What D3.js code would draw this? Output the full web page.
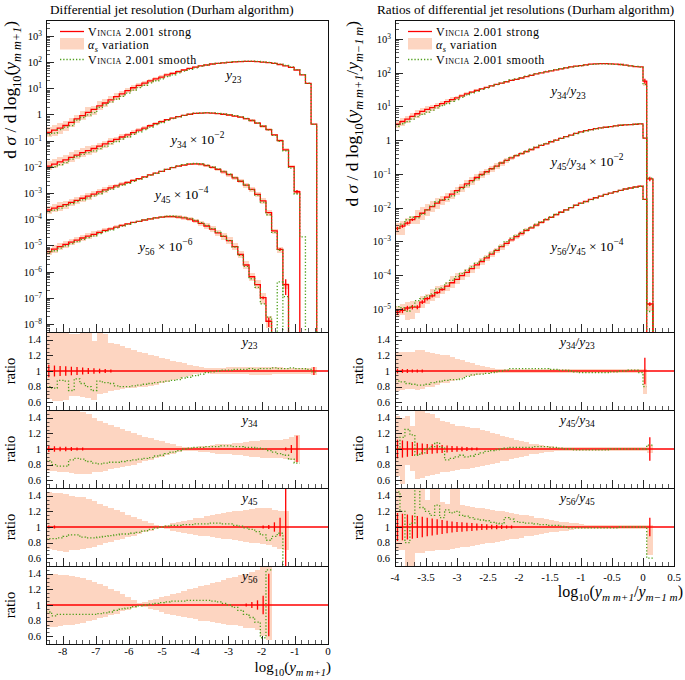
<!DOCTYPE html>
<html>
<head>
<meta charset="utf-8">
<script src="https://cdn.jsdelivr.net/npm/d3@7/dist/d3.min.js"></script>
<style>
html,body{margin:0;padding:0;background:#fff;}
svg{display:block;}
text{font-family:"Liberation Serif","DejaVu Serif",serif;fill:#000;}
</style>
</head>
<body>
<svg id="chart" width="685" height="680"></svg>
<script>
// ================= DATA =================
// Left: log10(y_{m m+1}) histograms, 50 bins of width 0.17 from -8.5 to 0
const leftEdges = d3.range(51).map(i => -8.5 + 0.17 * i);
// Right: log10(y_{m m+1}/y_{m-1 m}), 50 bins of 0.08 from -4 to 0, plus two end bins
const rightEdges = d3.range(51).map(i => -4 + 0.08 * i).concat([0.06, 0.16]);

const leftNames = ["23", "34", "45", "56"];
const leftScales = [1, 1e-2, 1e-4, 1e-6];
const rightNames = [["34", "23"], ["45", "34"], ["56", "45"]];
const rightScales = [1, 1e-2, 1e-4];

// Vincia 2.001 strong (unscaled)
const y23Values = [0.209,0.251,0.302,0.380,0.501,0.676,0.912,1.20,1.58,2.14,2.75,3.63,4.79,6.17,8.13,10.5,12.9,15.8,19.1,22.9,26.9,32.4,37.2,43.7,50.1,57.5,64.6,72.4,77.6,85.1,89.1,93.3,97.7,102,105,107,107,105,100,95.5,89.1,81.3,72.4,63.1,50.1,32.4,15.5,0.427];
const y34Values = [1.07,1.26,1.55,1.86,2.29,2.82,3.47,4.17,5.01,6.17,7.59,9.33,11.2,13.8,16.6,20.4,25.1,30.2,37.2,44.7,53.7,63.1,72.4,83.2,93.3,102,110,112,115,112,107,102,95.5,87.1,79.4,69.2,58.9,46.8,35.5,26.3,16.6,10.0,4.47,1.02,0.112];
const y45Values = [2.24,2.63,3.09,3.63,4.37,5.25,6.31,7.59,9.12,11.0,13.2,15.8,18.6,21.9,25.7,30.2,35.5,41.7,49.0,57.5,67.6,79.4,93.3,107,117,126,129,126,112,95.5,79.4,64.6,50.1,38.0,28.2,20.0,13.8,8.91,5.01,1.78,0.355,0.0708,0.00316];
const y56Values = [5.75,7.24,8.91,11.0,13.2,15.8,19.1,22.4,26.3,31.6,37.2,42.7,50.1,57.5,66.1,75.9,83.2,93.3,102,112,120,126,126,120,112,100,85.1,69.2,55.0,41.7,30.2,21.9,15.1,8.91,4.47,1.78,0.631,0.316,0.1,0.0126];

const r34_23Values = [2.95,3.55,4.17,5.01,6.03,7.08,8.13,9.12,10.5,12.0,13.8,15.8,17.8,20.4,23.4,26.3,29.5,33.1,36.3,40.7,44.7,49.0,53.7,58.9,63.1,69.2,75.9,83.2,91.2,97.7,105,112,120,129,138,148,155,162,170,178,182,186,186,182,178,174,166,158,151,148,56.2,0];
const r45_34Values = [0.240,0.282,0.347,0.437,0.537,0.676,0.851,1.07,1.35,1.66,2.04,2.51,3.16,3.98,5.01,6.31,7.76,9.55,11.5,14.1,17.0,20.9,25.1,29.5,34.7,39.8,45.7,52.5,60.3,69.2,77.6,89.1,100,112,126,141,158,174,191,204,219,229,240,251,263,275,282,288,295,302,115,7.08];
const r56_45Values = [0.0794,0.0891,0.105,0.112,0.112,0.158,0.200,0.240,0.302,0.372,0.468,0.589,0.741,0.955,1.20,1.55,2.00,2.51,3.24,4.17,5.37,6.92,8.71,11.0,13.8,17.0,20.9,25.1,30.2,36.3,43.7,51.3,61.7,72.4,85.1,100,117,135,151,174,195,219,245,269,295,324,355,380,407,427,174,0.138];

// alpha_s variation band (ratio to strong)
const y23BandHi = [1.55,1.55,1.55,1.55,1.47,1.47,1.55,1.55,1.38,1.49,1.48,1.36,1.34,1.32,1.29,1.27,1.25,1.23,1.21,1.19,1.17,1.15,1.13,1.12,1.10,1.08,1.07,1.05,1.04,1.04,1.04,1.04,1.05,1.05,1.05,1.05,1.05,1.05,1.05,1.05,1.05,1.05,1.04,1.04,1.04,1.04,1.04,1.05];
const y23BandLo = [0.64,0.61,0.62,0.63,0.68,0.68,0.67,0.66,0.63,0.70,0.72,0.75,0.76,0.77,0.78,0.78,0.79,0.80,0.81,0.82,0.84,0.86,0.88,0.90,0.92,0.94,0.96,0.97,0.97,0.96,0.96,0.96,0.96,0.96,0.96,0.96,0.95,0.95,0.95,0.95,0.96,0.96,0.96,0.96,0.96,0.96,0.96,0.95];
const y34BandHi = [1.55,1.55,1.55,1.55,1.55,1.55,1.48,1.45,1.40,1.36,1.33,1.31,1.28,1.26,1.23,1.20,1.18,1.16,1.14,1.12,1.10,1.08,1.06,1.04,1.03,1.02,1.03,1.04,1.04,1.05,1.06,1.06,1.07,1.08,1.08,1.09,1.10,1.10,1.11,1.11,1.12,1.12,1.13,1.15,1.18];
const y34BandLo = [0.72,0.72,0.70,0.70,0.69,0.68,0.68,0.68,0.70,0.70,0.72,0.74,0.76,0.77,0.78,0.80,0.82,0.84,0.86,0.88,0.90,0.92,0.94,0.96,0.98,0.98,0.97,0.96,0.96,0.95,0.94,0.94,0.93,0.92,0.92,0.91,0.90,0.90,0.89,0.89,0.88,0.88,0.87,0.86,0.83];
const y45BandHi = [1.45,1.44,1.43,1.42,1.40,1.39,1.38,1.36,1.33,1.30,1.27,1.25,1.22,1.19,1.16,1.13,1.10,1.08,1.05,1.03,1.01,1.03,1.05,1.06,1.08,1.09,1.11,1.12,1.14,1.15,1.17,1.18,1.19,1.20,1.21,1.22,1.23,1.24,1.24,1.25,1.22,1.20,1.20];
const y45BandLo = [0.72,0.70,0.69,0.68,0.70,0.71,0.72,0.73,0.75,0.77,0.79,0.81,0.83,0.85,0.87,0.89,0.91,0.93,0.95,0.97,0.99,0.97,0.95,0.94,0.92,0.91,0.90,0.89,0.88,0.87,0.86,0.85,0.84,0.83,0.82,0.81,0.80,0.79,0.78,0.77,0.75,0.72,0.70];
const y56BandHi = [1.40,1.40,1.39,1.38,1.37,1.36,1.34,1.32,1.30,1.27,1.24,1.21,1.18,1.14,1.10,1.06,1.02,1.04,1.06,1.08,1.10,1.12,1.14,1.16,1.18,1.20,1.22,1.24,1.26,1.28,1.30,1.32,1.34,1.36,1.38,1.40,1.42,1.45,1.55,1.55];
const y56BandLo = [0.72,0.72,0.73,0.74,0.75,0.76,0.77,0.79,0.81,0.83,0.85,0.87,0.89,0.92,0.94,0.96,0.99,0.97,0.95,0.93,0.91,0.89,0.87,0.86,0.84,0.83,0.82,0.80,0.79,0.78,0.77,0.76,0.75,0.74,0.73,0.71,0.70,0.68,0.60,0.55];
const r34_23BandHi = [1.25,1.25,1.25,1.25,1.27,1.27,1.24,1.23,1.22,1.21,1.20,1.18,1.16,1.14,1.12,1.10,1.08,1.07,1.05,1.04,1.03,1.03,1.03,1.03,1.03,1.03,1.03,1.03,1.03,1.03,1.03,1.03,1.03,1.03,1.03,1.03,1.03,1.03,1.03,1.02,1.02,1.02,1.02,1.02,1.02,1.02,1.02,1.02,1.02,1.02,1.02,null];
const r34_23BandLo = [0.75,0.76,0.77,0.77,0.76,0.77,0.79,0.80,0.82,0.84,0.85,0.87,0.89,0.91,0.93,0.94,0.95,0.96,0.97,0.97,0.97,0.97,0.97,0.97,0.97,0.97,0.97,0.97,0.97,0.97,0.97,0.97,0.97,0.97,0.97,0.97,0.97,0.97,0.97,0.98,0.98,0.98,0.98,0.98,0.98,0.98,0.98,0.98,0.98,0.98,0.70,null];
const r45_34BandHi = [1.42,1.40,1.42,1.30,1.55,1.55,1.46,1.45,1.40,1.36,1.34,1.32,1.30,1.29,1.28,1.27,1.27,1.25,1.23,1.21,1.19,1.17,1.16,1.14,1.12,1.10,1.09,1.07,1.06,1.05,1.04,1.04,1.03,1.03,1.03,1.03,1.03,1.03,1.03,1.03,1.03,1.03,1.03,1.03,1.03,1.03,1.03,1.03,1.03,1.03,1.03,1.05];
const r45_34BandLo = [0.65,0.55,0.80,0.72,0.62,0.63,0.65,0.67,0.68,0.70,0.71,0.72,0.73,0.74,0.75,0.76,0.77,0.78,0.80,0.81,0.82,0.84,0.85,0.87,0.88,0.90,0.91,0.93,0.94,0.95,0.96,0.96,0.97,0.97,0.97,0.97,0.97,0.97,0.97,0.97,0.97,0.97,0.97,0.97,0.97,0.97,0.97,0.97,0.97,0.97,0.97,0.95];
const r56_45BandHi = [1.55,1.55,1.55,1.55,1.55,1.55,1.35,1.55,1.55,1.32,1.30,1.55,1.55,1.28,1.27,1.26,1.25,1.24,1.23,1.22,1.21,1.20,1.19,1.18,1.17,1.16,1.15,1.14,1.12,1.11,1.10,1.09,1.08,1.07,1.06,1.05,1.05,1.04,1.03,1.03,1.03,1.03,1.03,1.03,1.03,1.03,1.03,1.03,1.03,1.03,1.03,1.02];
const r56_45BandLo = [0.71,0.71,0.45,0.45,0.67,0.67,0.69,0.69,0.70,0.71,0.71,0.72,0.73,0.74,0.75,0.76,0.77,0.78,0.79,0.80,0.81,0.82,0.83,0.84,0.85,0.86,0.88,0.89,0.90,0.91,0.92,0.93,0.94,0.95,0.95,0.96,0.97,0.97,0.97,0.97,0.97,0.97,0.97,0.97,0.97,0.97,0.97,0.97,0.97,0.97,0.97,0.64];

// Vincia 2.001 smooth, as ratio to strong
const y23Smooth = [0.80,0.78,0.88,0.87,0.75,0.90,0.84,0.80,0.75,0.87,0.85,0.84,0.81,0.80,0.80,0.81,0.82,0.83,0.84,0.85,0.86,0.87,0.88,0.89,0.91,0.92,0.94,0.96,0.98,0.99,1.00,1.01,1.01,1.02,1.02,1.02,1.03,1.02,1.03,1.03,1.04,1.03,1.03,1.04,1.03,1.03,1.02,0.99];
const y34Smooth = [0.85,0.80,0.78,0.78,0.86,0.88,0.87,0.84,0.82,0.81,0.82,0.83,0.83,0.84,0.85,0.86,0.87,0.88,0.89,0.91,0.92,0.94,0.96,0.98,1.00,1.01,1.02,1.02,1.03,1.03,1.03,1.04,1.04,1.03,1.03,1.02,1.02,1.01,1.00,0.98,0.96,0.94,0.92,0.87,0.82];
const y45Smooth = [0.85,0.85,0.86,0.88,0.90,0.90,0.87,0.86,0.86,0.87,0.88,0.89,0.90,0.91,0.91,0.92,0.93,0.95,0.97,0.99,1.00,1.01,1.02,1.02,1.03,1.03,1.04,1.04,1.04,1.05,1.05,1.04,1.04,1.02,1.01,0.99,0.97,0.94,0.90,0.83,0.88,0.92,0.35];
const y56Smooth = [0.91,0.86,0.88,0.88,0.88,0.88,0.88,0.88,0.88,0.89,0.90,0.91,0.93,0.95,0.96,0.98,0.99,1.00,1.01,1.02,1.03,1.04,1.05,1.05,1.05,1.06,1.06,1.06,1.06,1.05,1.04,1.02,1.00,0.97,0.93,0.88,0.84,0.78,0.58,1.45];
const r34_23Smooth = [0.87,0.86,0.84,0.83,0.82,0.82,0.83,0.85,0.86,0.87,0.88,0.89,0.89,0.90,0.93,0.95,0.96,0.96,0.97,0.98,0.99,1.00,1.01,1.03,1.03,1.03,1.03,1.03,1.03,1.03,1.03,1.02,1.02,1.01,1.01,1.00,0.99,0.98,0.98,0.98,0.98,0.98,0.98,0.99,0.99,1.00,1.00,1.01,1.01,0.98,0.80,null];
const r45_34Smooth = [1.00,1.15,1.25,1.18,0.92,0.95,1.00,1.03,1.08,1.02,0.86,0.88,0.90,0.92,0.90,0.91,0.93,0.95,0.97,0.98,0.99,1.00,1.01,1.02,1.02,1.02,1.02,1.02,1.03,1.03,1.03,1.02,1.02,1.01,1.00,1.00,0.99,0.99,0.99,0.99,0.99,0.99,0.99,1.00,1.00,1.00,1.00,1.00,1.00,1.00,1.00,1.05];
const r56_45Smooth = [1.45,1.20,0.80,1.05,1.55,1.25,1.20,1.15,1.28,1.12,1.22,1.18,1.20,1.15,1.14,1.12,1.10,1.09,1.08,1.06,1.05,1.04,1.12,1.10,1.07,1.06,1.05,1.05,1.04,1.03,1.03,1.02,1.02,1.01,1.00,0.99,0.99,0.99,0.99,0.99,0.99,0.99,0.99,0.99,0.99,1.00,1.00,1.00,1.00,1.00,1.00,0.60];
// smooth-only bins where strong is empty: [bin, unscaled value]
const y34SmoothTail = [[45, 2.1e-3]];
const y56SmoothTail = [[41, 0.4]];

// relative statistical errors of strong
const y23Err = [0.08,0.07,0.065,0.06,0.055,0.05,0.045,0.04,0.035,0.03,0.025,0.02,0.015,0.012,0.01,0.008,0.006,0.005,0.004,0.003,0.003,0.002,0.002,0.002,0.002,0.002,0.002,0.002,0.002,0.002,0.002,0.002,0.002,0.002,0.002,0.002,0.002,0.002,0.002,0.002,0.003,0.003,0.004,0.005,0.006,0.008,0.012,0.05];
const y34Err = [0.04,0.035,0.03,0.03,0.025,0.02,0.02,0.015,0.012,0.01,0.008,0.006,0.005,0.004,0.003,0.003,0.002,0.002,0.002,0.002,0.002,0.002,0.002,0.002,0.002,0.002,0.002,0.002,0.002,0.002,0.002,0.002,0.002,0.002,0.002,0.003,0.003,0.004,0.005,0.006,0.008,0.012,0.02,0.05,0.17];
const y45Err = [0.02,0.02,0.015,0.015,0.012,0.01,0.01,0.008,0.006,0.005,0.004,0.003,0.003,0.002,0.002,0.002,0.002,0.002,0.002,0.002,0.002,0.002,0.002,0.002,0.002,0.002,0.002,0.002,0.002,0.003,0.003,0.004,0.005,0.006,0.008,0.01,0.012,0.015,0.02,0.025,0.06,0.12,0.6];
const y56Err = [0.015,0.015,0.012,0.01,0.01,0.008,0.006,0.005,0.004,0.003,0.003,0.002,0.002,0.002,0.002,0.002,0.002,0.002,0.002,0.002,0.002,0.002,0.002,0.002,0.002,0.002,0.003,0.003,0.004,0.005,0.006,0.008,0.01,0.012,0.015,0.02,0.04,0.06,0.12,0.4];
const r34_23Err = [0.03,0.025,0.025,0.02,0.02,0.02,0.015,0.015,0.012,0.01,0.01,0.008,0.006,0.005,0.004,0.003,0.003,0.002,0.002,0.002,0.002,0.002,0.002,0.002,0.002,0.002,0.002,0.002,0.002,0.002,0.002,0.002,0.002,0.002,0.002,0.002,0.002,0.002,0.002,0.002,0.002,0.002,0.002,0.002,0.002,0.002,0.002,0.002,0.002,0.003,0.17,null];
const r45_34Err = [0.12,0.11,0.10,0.09,0.08,0.07,0.065,0.06,0.055,0.05,0.045,0.04,0.035,0.03,0.025,0.02,0.018,0.015,0.012,0.01,0.008,0.006,0.005,0.004,0.003,0.003,0.002,0.002,0.002,0.002,0.002,0.002,0.002,0.002,0.002,0.002,0.002,0.002,0.002,0.002,0.002,0.002,0.002,0.002,0.002,0.002,0.002,0.002,0.002,0.003,0.01,0.15];
const r56_45Err = [0.18,0.17,0.16,0.15,0.14,0.13,0.12,0.11,0.10,0.09,0.08,0.07,0.065,0.06,0.055,0.05,0.045,0.04,0.035,0.03,0.03,0.025,0.02,0.02,0.015,0.01,0.008,0.006,0.005,0.004,0.003,0.003,0.002,0.002,0.002,0.002,0.002,0.002,0.002,0.002,0.002,0.002,0.002,0.002,0.002,0.002,0.002,0.002,0.002,0.003,0.01,0.12];

const leftXTicks = [-8, -7, -6, -5, -4, -3, -2, -1, 0];
const rightXTicks = [-4, -3.5, -3, -2.5, -2, -1.5, -1, -0.5, 0, 0.5];
const ratioTicks = [0.6, 0.8, 1, 1.2, 1.4];

// ================= STYLE / LAYOUT =================
const RED = "#ff0000", BAND = "#fdd5c1", GREEN = "#4fa01c", INK = "#111";
const svg = d3.select("#chart");
const defs = svg.append("defs");
let cid = 0;
function clipRect(x0, y0, x1, y1) {
  const id = "clip" + (cid++);
  defs.append("clipPath").attr("id", id).append("rect")
    .attr("x", x0).attr("y", y0).attr("width", x1 - x0).attr("height", y1 - y0);
  return "url(#" + id + ")";
}

const LX = d3.scaleLinear().domain([-8.5, 0]).range([46, 328]);
const RX = d3.scaleLinear().domain([-4, 0.5]).range([395, 674]);
const LY = d3.scaleLog().domain([Math.pow(10, -8.31), Math.pow(10, 3.61)]).range([332, 20]);
const RY = d3.scaleLog().domain([Math.pow(10, -5.69), Math.pow(10, 3.56)]).range([332, 20]);
const MAIN_TOP = 20, MAIN_BOT = 332, RH = 78;

function mtext(sel, parts, size) {
  let shift = 0;
  parts.forEach(p => {
    const t = p[0], st = p[1] || "";
    const sub = st.includes("b"), sup = st.includes("p");
    const target = sub ? 0.28 * size : (sup ? -0.42 * size : 0);
    const ts = sel.append("tspan").text(t).attr("dy", target - shift);
    shift = target;
    if (sub || sup) ts.attr("font-size", (size * 0.7).toFixed(2));
    if (st.includes("i")) ts.attr("font-style", "italic");
    if (st.includes("c")) ts.attr("font-variant", "small-caps");
  });
}

function stepD(edges, vals, xs, ys, base) {
  let d = "", on = false;
  for (let i = 0; i < edges.length - 1; i++) {
    const v = vals[i];
    const x0 = xs(edges[i]), x1 = xs(edges[i + 1]);
    if (v != null && v > 0) {
      const yy = ys(v);
      if (!on) d += (i > 0 && base != null) ? `M${x0},${base}V${yy}` : `M${x0},${yy}`;
      else d += `V${yy}`;
      d += `H${x1}`;
      on = true;
    } else {
      if (on && base != null) d += `V${base}`;
      on = false;
    }
  }
  if (on && base != null) d += `V${base}`;
  return d;
}

function makeSeries(values, scale, hi, lo, smooth, err, tail) {
  return {values, scale, hi, lo, smooth, err, tail: tail || []};
}
const leftSeries = [
  makeSeries(y23Values, leftScales[0], y23BandHi, y23BandLo, y23Smooth, y23Err),
  makeSeries(y34Values, leftScales[1], y34BandHi, y34BandLo, y34Smooth, y34Err, y34SmoothTail),
  makeSeries(y45Values, leftScales[2], y45BandHi, y45BandLo, y45Smooth, y45Err),
  makeSeries(y56Values, leftScales[3], y56BandHi, y56BandLo, y56Smooth, y56Err, y56SmoothTail)
];
const rightSeries = [
  makeSeries(r34_23Values, rightScales[0], r34_23BandHi, r34_23BandLo, r34_23Smooth, r34_23Err),
  makeSeries(r45_34Values, rightScales[1], r45_34BandHi, r45_34BandLo, r45_34Smooth, r45_34Err),
  makeSeries(r56_45Values, rightScales[2], r56_45BandHi, r56_45BandLo, r56_45Smooth, r56_45Err)
];

function drawMain(xs, ys, edges, series) {
  const [x0, x1] = xs.range();
  const g = svg.append("g").attr("clip-path", clipRect(x0, MAIN_TOP, x1, MAIN_BOT));
  const nb = edges.length - 1;
  series.forEach(s => s.values.forEach((v, i) => {
    if (!(v > 0) || s.hi[i] == null) return;
    const a = ys(v * s.scale * s.hi[i]), b = ys(v * s.scale * s.lo[i]);
    g.append("rect").attr("x", xs(edges[i])).attr("y", a)
      .attr("width", xs(edges[i + 1]) - xs(edges[i]) + 0.4).attr("height", Math.max(0, b - a))
      .attr("fill", BAND).attr("shape-rendering", "crispEdges");
  }));
  series.forEach(s => {
    const vals = d3.range(nb).map(i => (s.values[i] > 0 ? s.values[i] * s.scale : 0));
    g.append("path").attr("d", stepD(edges, vals, xs, ys, MAIN_BOT + 3))
      .attr("fill", "none").attr("stroke", RED).attr("stroke-width", 1.3);
    s.values.forEach((v, i) => {
      const e = s.err[i];
      if (!(v > 0) || e == null) return;
      const ya = ys(v * s.scale * (1 + e)), yb = (1 - e) > 0 ? ys(v * s.scale * (1 - e)) : MAIN_BOT + 3;
      if (yb - ya < 2.5) return;
      const xc = (xs(edges[i]) + xs(edges[i + 1])) / 2;
      g.append("line").attr("x1", xc).attr("x2", xc).attr("y1", ya).attr("y2", yb)
        .attr("stroke", RED).attr("stroke-width", 1.3);
    });
  });
  series.forEach(s => {
    const vals = d3.range(nb).map(i => (s.values[i] > 0 && s.smooth[i] != null) ? s.values[i] * s.scale * s.smooth[i] : 0);
    s.tail.forEach(([i, v]) => { vals[i] = v * s.scale; });
    g.append("path").attr("d", stepD(edges, vals, xs, ys, MAIN_BOT + 3))
      .attr("fill", "none").attr("stroke", GREEN).attr("stroke-width", 1.3)
      .attr("stroke-dasharray", "1.3,1.9");
  });
  // frame + ticks
  const ax = svg.append("g");
  ax.append("rect").attr("x", x0 + 0.5).attr("y", MAIN_TOP + 0.5).attr("width", x1 - x0)
    .attr("height", MAIN_BOT - MAIN_TOP).attr("fill", "none").attr("stroke", INK).attr("stroke-width", 1);
  const [d0, d1] = ys.domain();
  const tickLabelX = x0 - 4;
  for (let e = Math.floor(Math.log10(d0)); e <= Math.ceil(Math.log10(d1)); e++) {
    const b = Math.pow(10, e);
    if (b >= d0 && b <= d1) {
      const yy = Math.round(ys(b)) + 0.5;
      ax.append("line").attr("x1", x0).attr("x2", x0 + 8).attr("y1", yy).attr("y2", yy).attr("stroke", INK).attr("stroke-width", 0.9);
      const t = ax.append("text").attr("x", tickLabelX).attr("y", yy + 3.6).attr("text-anchor", "end").attr("font-size", 10.5);
      if (e === 0) t.text("1");
      else mtext(t, [["10"], [String(e).replace("-", "\u2212"), "p"]], 10.5);
    }
    for (let k = 2; k <= 9; k++) {
      const v = k * b;
      if (v < d0 || v > d1) continue;
      const yy = Math.round(ys(v)) + 0.5;
      ax.append("line").attr("x1", x0).attr("x2", x0 + 4).attr("y1", yy).attr("y2", yy).attr("stroke", INK).attr("stroke-width", 0.7);
    }
  }
}

function xTicks(xs, yBottom, majors, minorStep, labels, labelY) {
  const ax = svg.append("g");
  const [a, b] = xs.domain();
  const n0 = Math.ceil(a / minorStep - 1e-6), n1 = Math.floor(b / minorStep + 1e-6);
  for (let n = n0; n <= n1; n++) {
    const v = n * minorStep;
    const isMajor = majors.some(m => Math.abs(m - v) < 1e-6);
    const xx = Math.round(xs(v)) + 0.5;
    ax.append("line").attr("x1", xx).attr("x2", xx).attr("y1", yBottom).attr("y2", yBottom - (isMajor ? 8 : 4))
      .attr("stroke", INK).attr("stroke-width", isMajor ? 0.9 : 0.7);
  }
  if (labels) majors.forEach(m => {
    ax.append("text").attr("x", xs(m)).attr("y", labelY).attr("text-anchor", "middle")
      .attr("font-size", 11).text(String(m));
  });
}

function drawRatio(xs, edges, s, top, labelParts, labelX) {
  const [x0, x1] = xs.range();
  const y = d3.scaleLinear().domain([0.5, 1.5]).range([top + RH, top]);
  const g = svg.append("g").attr("clip-path", clipRect(x0, top, x1, top + RH));
  s.values.forEach((v, i) => {
    if (!(v > 0) || s.hi[i] == null) return;
    g.append("rect").attr("x", xs(edges[i])).attr("y", y(s.hi[i]))
      .attr("width", xs(edges[i + 1]) - xs(edges[i]) + 0.4).attr("height", y(s.lo[i]) - y(s.hi[i]))
      .attr("fill", BAND).attr("shape-rendering", "crispEdges");
  });
  g.append("line").attr("x1", x0).attr("x2", x1).attr("y1", y(1)).attr("y2", y(1))
    .attr("stroke", RED).attr("stroke-width", 1.3);
  s.values.forEach((v, i) => {
    const e = s.err[i];
    if (!(v > 0) || e == null || e * RH < 1.2) return;
    const xc = (xs(edges[i]) + xs(edges[i + 1])) / 2;
    g.append("line").attr("x1", xc).attr("x2", xc).attr("y1", y(1 + e)).attr("y2", y(1 - e))
      .attr("stroke", RED).attr("stroke-width", 1.3);
  });
  const vals = d3.range(edges.length - 1).map(i => (s.values[i] > 0 && s.smooth[i] != null) ? s.smooth[i] : null);
  g.append("path").attr("d", stepD(edges, vals, xs, y, null))
    .attr("fill", "none").attr("stroke", GREEN).attr("stroke-width", 1.3).attr("stroke-dasharray", "1.3,1.9");
  // frame and y ticks
  const ax = svg.append("g");
  ax.append("rect").attr("x", x0 + 0.5).attr("y", top + 0.5).attr("width", x1 - x0).attr("height", RH)
    .attr("fill", "none").attr("stroke", INK).attr("stroke-width", 1);
  for (let n = 11; n <= 29; n++) {
    const v = n * 0.05;
    const major = ratioTicks.some(m => Math.abs(m - v) < 1e-6);
    const yy = Math.round(y(v)) + 0.5;
    ax.append("line").attr("x1", x0).attr("x2", x0 + (major ? 7 : 3.5)).attr("y1", yy).attr("y2", yy)
      .attr("stroke", INK).attr("stroke-width", major ? 0.9 : 0.7);
  }
  ratioTicks.forEach(m => {
    ax.append("text").attr("x", x0 - 5).attr("y", y(m) + 3.6).attr("text-anchor", "end")
      .attr("font-size", 10.5).text(String(m));
  });
  const t = svg.append("text").attr("x", labelX).attr("y", top + 13.5).attr("font-size", 13.5);
  mtext(t, labelParts, 13.5);
  return y;
}

// ================= DRAW =================
drawMain(LX, LY, leftEdges, leftSeries);
drawMain(RX, RY, rightEdges, rightSeries);
xTicks(LX, MAIN_BOT, leftXTicks, 0.2, false);
xTicks(RX, MAIN_BOT, rightXTicks, 0.1, false);

leftSeries.forEach((s, k) => {
  const top = MAIN_BOT + k * RH;
  drawRatio(LX, leftEdges, s, top, [["y", "i"], [leftNames[k], "b"]], 242);
  xTicks(LX, top + RH, leftXTicks, 0.2, k === 3, 655);
});
rightSeries.forEach((s, k) => {
  const top = MAIN_BOT + k * RH;
  const nm = rightNames[k];
  drawRatio(RX, rightEdges, s, top, [["y", "i"], [nm[0], "b"], ["/"], ["y", "i"], [nm[1], "b"]], 560);
  xTicks(RX, top + RH, rightXTicks, 0.1, k === 2, 581);
});

// titles
svg.append("text").attr("x", 50).attr("y", 14).attr("font-size", 13.2).text("Differential jet resolution (Durham algorithm)");
svg.append("text").attr("x", 377).attr("y", 14).attr("font-size", 13.2).text("Ratios of differential jet resolutions (Durham algorithm)");

// curve labels in main panels
const leftLabelPos = [[226, 79], [171, 144], [155, 199], [139, 251]];
leftNames.forEach((nm, k) => {
  const t = svg.append("text").attr("x", leftLabelPos[k][0]).attr("y", leftLabelPos[k][1]).attr("font-size", 13.5);
  const parts = [["y", "i"], [nm, "b"]];
  if (k > 0) parts.push([" \u00d7 10"], ["\u2212" + (2 * k), "p"]);
  mtext(t, parts, 13.5);
});
const rightLabelPos = [[551, 95], [551, 166], [551, 251]];
rightNames.forEach((nm, k) => {
  const t = svg.append("text").attr("x", rightLabelPos[k][0]).attr("y", rightLabelPos[k][1]).attr("font-size", 13.5);
  const parts = [["y", "i"], [nm[0], "b"], ["/"], ["y", "i"], [nm[1], "b"]];
  if (k > 0) parts.push([" \u00d7 10"], ["\u2212" + (2 * k), "p"]);
  mtext(t, parts, 13.5);
});

// legends
function legend(x0, lx) {
  svg.append("line").attr("x1", x0).attr("x2", x0 + 24).attr("y1", 31.5).attr("y2", 31.5).attr("stroke", RED).attr("stroke-width", 1.3);
  svg.append("rect").attr("x", x0).attr("y", 38).attr("width", 24).attr("height", 11.5).attr("fill", BAND);
  svg.append("line").attr("x1", x0).attr("x2", x0 + 24).attr("y1", 59.5).attr("y2", 59.5).attr("stroke", GREEN).attr("stroke-width", 1.3).attr("stroke-dasharray", "1.3,1.9");
  let t = svg.append("text").attr("x", lx).attr("y", 35.5).attr("font-size", 12).attr("letter-spacing", 0.5);
  mtext(t, [["Vincia", "c"], [" 2.001 strong"]], 12);
  t = svg.append("text").attr("x", lx).attr("y", 48.5).attr("font-size", 12).attr("letter-spacing", 0.5);
  mtext(t, [["\u03b1", "i"], ["s", "ib"], [" variation"]], 12);
  t = svg.append("text").attr("x", lx).attr("y", 63.5).attr("font-size", 12).attr("letter-spacing", 0.5);
  mtext(t, [["Vincia", "c"], [" 2.001 smooth"]], 12);
}
legend(60, 88);
legend(408, 436);

// axis titles
function yTitle(x, yEnd, parts, size, anchor) {
  const t = svg.append("text").attr("transform", `translate(${x},${yEnd}) rotate(-90)`)
    .attr("text-anchor", anchor).attr("font-size", size);
  mtext(t, parts, size);
}
yTitle(16, 21, [["d "], ["\u03c3", "i"], [" / d log"], ["10", "b"], ["("], ["y", "i"], ["m m+1", "ib"], [")"]], 17.5, "end");
yTitle(358, 21, [["d "], ["\u03c3", "i"], [" / d log"], ["10", "b"], ["("], ["y", "i"], ["m m+1", "ib"], ["/"], ["y", "i"], ["m\u22121 m", "ib"], [")"]], 17.5, "end");
for (let k = 0; k < 4; k++) yTitle(15, MAIN_BOT + k * RH + RH / 2, [["ratio"]], 14.5, "middle");
for (let k = 0; k < 3; k++) yTitle(363, MAIN_BOT + k * RH + RH / 2, [["ratio"]], 14.5, "middle");

let xt = svg.append("text").attr("x", 331).attr("y", 672).attr("text-anchor", "end").attr("font-size", 15);
mtext(xt, [["log"], ["10", "b"], ["("], ["y", "i"], ["m m+1", "ib"], [")"]], 15);
xt = svg.append("text").attr("x", 683).attr("y", 597).attr("text-anchor", "end").attr("font-size", 16);
mtext(xt, [["log"], ["10", "b"], ["("], ["y", "i"], ["m m+1", "ib"], ["/"], ["y", "i"], ["m\u22121 m", "ib"], [")"]], 16);
</script>
</body>
</html>
